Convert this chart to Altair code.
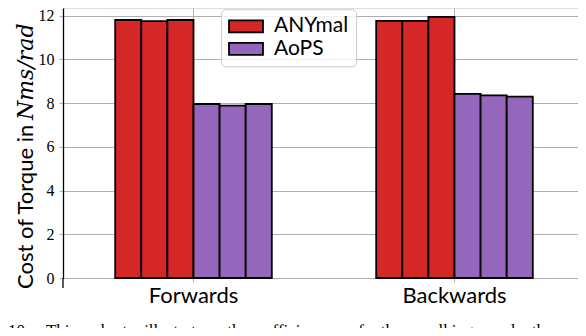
import altair as alt
import pandas as pd

# ---- data ----
categories = ["Forwards", "Backwards"]
series = ["ANYmal", "AoPS"]
anymal_forwards = [11.80, 11.75, 11.80]
aops_forwards = [7.96, 7.88, 7.96]
anymal_backwards = [11.76, 11.76, 11.94]
aops_backwards = [8.42, 8.35, 8.30]
y_ticks = [0, 2, 4, 6, 8, 10, 12]
colors = ["#d62728", "#9467bd"]
y_title_plain = ["Cost of Torque in"]
y_title_math = ["Nms/rad"]
NB = "\u00a0"
caption_words = ["10.", "This", "chart", "illustrates", "the", "efficiency", "of", "the",
                 "walking", "and", "the", "other", "directions"]
caption = [(NB * 3 + " ").join(caption_words)]

values = {
    ("Forwards", "ANYmal"): anymal_forwards,
    ("Forwards", "AoPS"): aops_forwards,
    ("Backwards", "ANYmal"): anymal_backwards,
    ("Backwards", "AoPS"): aops_backwards,
}
rows = []
slots = []
for s in series:
    for i in range(3):
        slots.append(f"{s}-{i}")
for c in categories:
    for s in series:
        for i, v in enumerate(values[(c, s)]):
            rows.append({"category": c, "series": s, "slot": f"{s}-{i}", "value": v})
df = pd.DataFrame(rows)

SANS = "Lato"
W, H = 515, 270

bars = alt.Chart(df).mark_bar(stroke="black", strokeWidth=1.8).encode(
    x=alt.X(
        "category:N", sort=categories,
        scale=alt.Scale(paddingInner=0.4, paddingOuter=0.2, range=[0, 522]),
        axis=alt.Axis(
            title=None, labelAngle=0, domain=False,
            ticks=True, tickColor="#b0b0b0", tickSize=4, tickWidth=1,
            labelFont=SANS, labelFontSize=22, labelColor="black", labelPadding=3,
            grid=True, gridColor="#b0b0b0", gridWidth=1,
        ),
    ),
    xOffset=alt.XOffset("slot:N", sort=slots, scale=alt.Scale(paddingInner=0, paddingOuter=0)),
    y=alt.Y(
        "value:Q",
        scale=alt.Scale(domain=[0, 12.35], nice=False, zero=True),
        axis=alt.Axis(
            values=y_ticks, title=None,
            domain=True, domainColor="black", domainWidth=1.3,
            ticks=True, tickColor="#b0b0b0", tickSize=4, tickWidth=1,
            labelFont="Liberation Serif", labelFontSize=16, labelColor="black", labelPadding=5,
            grid=True, gridColor="#b0b0b0", gridWidth=1,
        ),
    ),
    color=alt.Color(
        "series:N", sort=series,
        scale=alt.Scale(domain=series, range=colors),
        legend=alt.Legend(
            title=None, orient="none", legendX=158, legendY=1.3,
            symbolType="M-1,-0.353H1V0.353H-1Z", symbolSize=1156,
            symbolStrokeColor="black", symbolStrokeWidth=1.8, symbolOpacity=1,
            labelFont=SANS, labelFontSize=21, labelColor="black", labelOffset=10,
            clipHeight=20, rowPadding=1.5, padding=7,
            fillColor="rgba(255,255,255,0.8)", strokeColor="#cccccc", cornerRadius=4,
        ),
    ),
)

# left spine continues a little below zero
spine_ext = alt.Chart(pd.DataFrame({"k": [0]})).mark_rule(color="black", strokeWidth=1.3).encode(
    x=alt.value(0), y=alt.value(H), y2=alt.value(H + 10)
)

title_plain = alt.Chart(pd.DataFrame({"t": y_title_plain})).mark_text(
    font=SANS, fontSize=22, angle=270, align="left", baseline="alphabetic", color="black"
).encode(text="t:N", x=alt.value(-30), y=alt.value(281))

title_math = alt.Chart(pd.DataFrame({"t": y_title_math})).mark_text(
    font="DejaVu Serif", fontSize=22, fontStyle="italic", angle=270, align="left",
    baseline="alphabetic", color="black"
).encode(text="t:N", x=alt.value(-30), y=alt.value(112))

cap = alt.Chart(pd.DataFrame({"t": caption})).mark_text(
    font="Liberation Serif", fontSize=17, align="left", baseline="alphabetic", color="black"
).encode(text="t:N", x=alt.value(-55), y=alt.value(328))

chart = alt.layer(bars, spine_ext, title_plain, title_math, cap).properties(
    width=W, height=H,
    autosize=alt.AutoSizeParams(type="none"),
    padding={"left": 55, "top": 0, "right": 0, "bottom": 50},
).configure_view(stroke=None).configure(background="white")

chart.save("out.html", embed_options={"renderer": "svg", "actions": False})
